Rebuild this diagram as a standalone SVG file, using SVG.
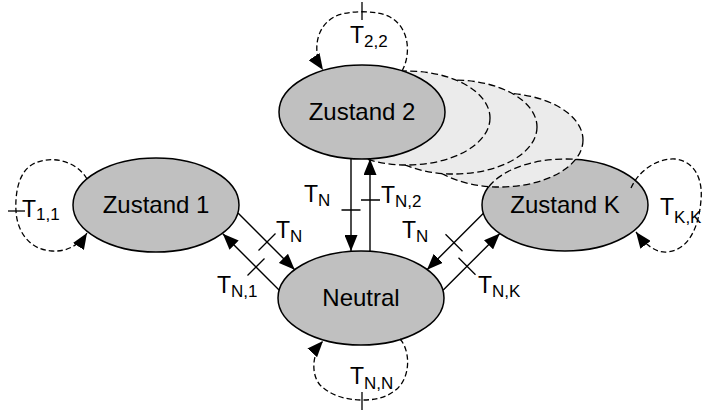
<svg xmlns="http://www.w3.org/2000/svg" width="704" height="411" viewBox="0 0 704 411">
  <defs>
    <style>
      .state{fill:#c0c0c0;stroke:#000;stroke-width:1.5}
      .ghost{fill:#ebebeb;stroke:#000;stroke-width:1.3;stroke-dasharray:7 3.5}
      .hidden{fill:none;stroke:#000;stroke-width:1.3;stroke-dasharray:7 3.5}
      .name{font-family:"Liberation Sans",Arial,sans-serif;font-size:24px;text-anchor:middle;fill:#000}
      .edge{fill:none;stroke:#000;stroke-width:1.4}
      .loop{fill:none;stroke:#000;stroke-width:1.3;stroke-dasharray:5.5 3}
      .tick{fill:none;stroke:#000;stroke-width:1.3}
      .lbl{font-family:"Liberation Sans",Arial,sans-serif;font-size:23px;fill:#000}
      .sub{font-size:17px}
    </style>
    <marker id="head" markerUnits="userSpaceOnUse" markerWidth="16" markerHeight="13" viewBox="0 0 16 13" refX="16" refY="6.5" orient="auto">
      <path d="M0,0 L16,6.5 L0,13 Z" fill="#000" stroke="none"/>
    </marker>
  </defs>

  <!-- states -->
  <g id="zustand-k">
    <ellipse class="state" cx="565" cy="205" rx="83" ry="46"/>
    <text class="name" x="565" y="213">Zustand K</text>
  </g>

  <!-- intermediate states between Zustand 2 and Zustand K -->
  <g id="intermediate-states">
    <ellipse class="ghost" cx="500" cy="140" rx="83" ry="47"/>
    <ellipse class="ghost" cx="454" cy="127" rx="83" ry="47"/>
    <ellipse class="ghost" cx="407" cy="118" rx="83" ry="47"/>
    <!-- covered part of the Zustand K outline -->
    <path class="hidden" d="M488.9,186.6 A83,46 0 0 1 575.6,159.4"/>
  </g>

  <g id="zustand-2">
    <ellipse class="state" cx="362" cy="112" rx="83" ry="47"/>
    <text class="name" x="362" y="120">Zustand 2</text>
  </g>

  <g id="zustand-1">
    <ellipse class="state" cx="156" cy="205" rx="83" ry="47"/>
    <text class="name" x="156" y="213">Zustand 1</text>
  </g>

  <g id="neutral">
    <ellipse class="state" cx="361" cy="298" rx="83" ry="47"/>
    <text class="name" x="361" y="306">Neutral</text>
  </g>

  <!-- transitions -->
  <g id="connectors">
    <!-- Zustand 2 <-> Neutral -->
    <path class="edge" d="M351,159 L351,251" marker-end="url(#head)"/>
    <path class="edge" d="M370,251 L370,159" marker-end="url(#head)"/>
    <path class="tick" d="M341.5,210 H360.5 M361,200 H380"/>
    <!-- Zustand 1 <-> Neutral -->
    <path class="edge" d="M238,213 L294.7,269.7" marker-end="url(#head)"/>
    <path class="edge" d="M279.3,290.3 L222.8,233.8" marker-end="url(#head)"/>
    <path class="tick" d="M258.5,250.5 L275.5,233.5 M247.5,275.5 L264.5,258.5"/>
    <!-- Zustand K <-> Neutral -->
    <path class="edge" d="M483.7,213 L427,269.7" marker-end="url(#head)"/>
    <path class="edge" d="M443,290.3 L499.8,233.5" marker-end="url(#head)"/>
    <path class="tick" d="M445.5,234.2 L462.5,251.2 M458.5,257.8 L475.5,274.8"/>

    <!-- self loops -->
    <path class="loop" d="M402,71 C411,55 410,28 390,17 C377,10 347,10 334,17 C314,28 313,55 323,70" marker-end="url(#head)"/>
    <path class="tick" d="M362,2 V20"/>
    <path class="loop" d="M87,179 C76,160 50,155 33,164 C18,172 15,195 16,211 C17,232 30,250 52,251 C68,252 80,244 87,233" marker-end="url(#head)"/>
    <path class="tick" d="M8,211 H25"/>
    <path class="loop" d="M631,188 C640,168 660,158 675,159 C695,161 703,180 701,200 C699,225 690,250 667,252 C655,253 645,244 636,232" marker-end="url(#head)"/>
    <path class="loop" d="M400,339 C410,350 411,375 398,388 C387,398 375,400 362,400 C345,400 330,395 320,385 C310,373 313,352 323,341" marker-end="url(#head)"/>
    <path class="tick" d="M362,392 V410"/>
  </g>

  <!-- transition labels -->
  <g id="labels">
    <text class="lbl" x="350" y="43">T<tspan class="sub" dy="4">2,2</tspan></text>
    <text class="lbl" x="22" y="217">T<tspan class="sub" dy="3">1,1</tspan></text>
    <text class="lbl" x="660" y="215">T<tspan class="sub" dy="8">K,K</tspan></text>
    <text class="lbl" x="350" y="384">T<tspan class="sub" dy="5">N,N</tspan></text>
    <text class="lbl" x="304" y="202">T<tspan class="sub" dy="4">N</tspan></text>
    <text class="lbl" x="381" y="203">T<tspan class="sub" dy="4">N,2</tspan></text>
    <text class="lbl" x="276" y="238">T<tspan class="sub" dy="4">N</tspan></text>
    <text class="lbl" x="217" y="293">T<tspan class="sub" dy="4">N,1</tspan></text>
    <text class="lbl" x="402" y="238">T<tspan class="sub" dy="4">N</tspan></text>
    <text class="lbl" x="478" y="293">T<tspan class="sub" dy="4">N,K</tspan></text>
  </g>
</svg>
